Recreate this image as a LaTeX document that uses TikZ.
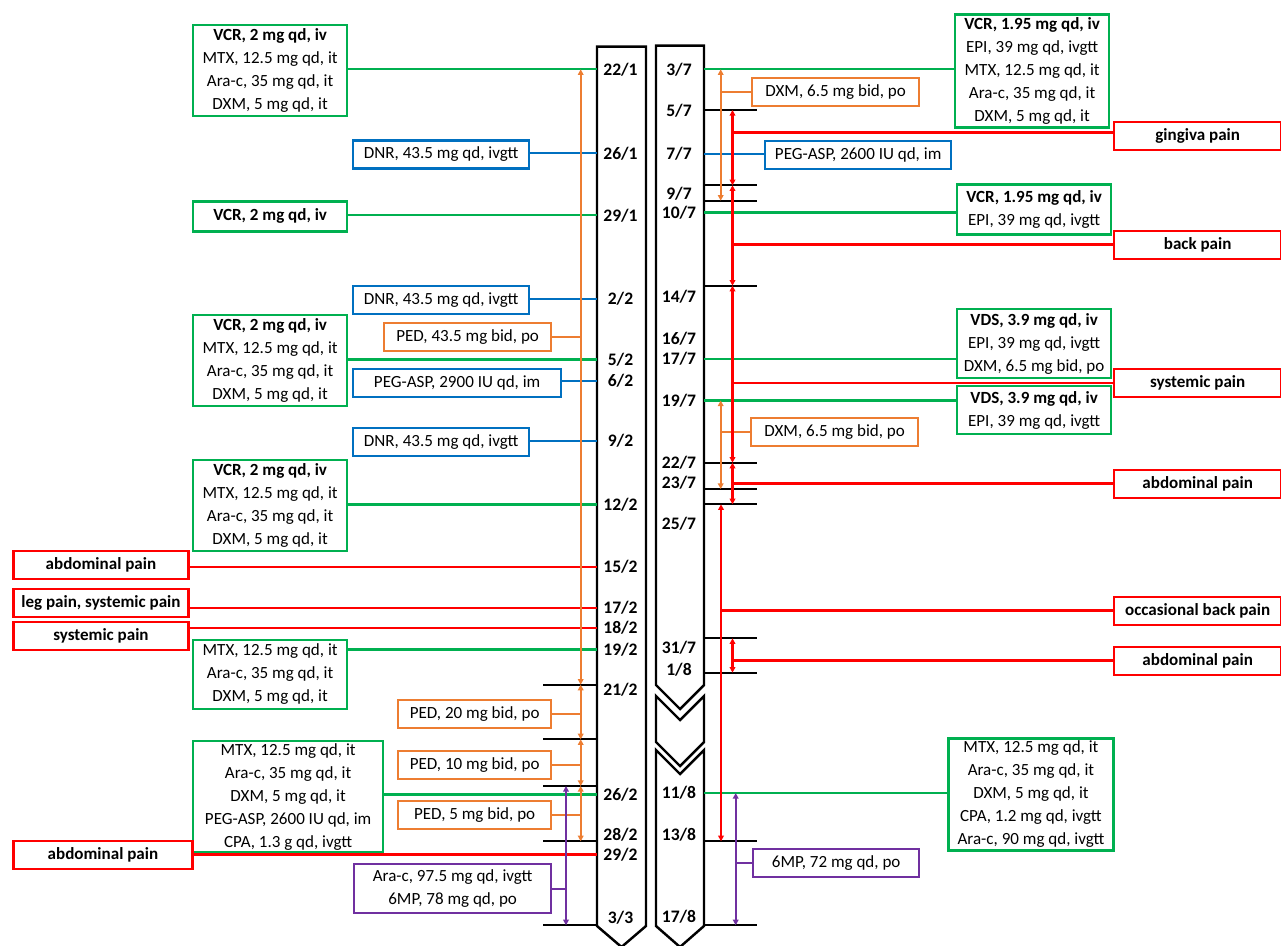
\documentclass[tikz,border=0pt]{standalone}
\usepackage{fontspec}
\setmainfont{Carlito}
\usepackage{tikz}
\usetikzlibrary{calc,positioning,arrows.meta}

\definecolor{dgreen}{RGB}{0,176,80}
\definecolor{dblue}{RGB}{0,112,192}
\definecolor{dorange}{RGB}{237,125,49}
\definecolor{dred}{RGB}{255,0,0}
\definecolor{dpurple}{RGB}{112,48,160}

\tikzset{
	drug/.style={draw, line width=1.3pt, fill=white, align=center, inner sep=0pt, anchor=north west, font=\fontsize{9.7}{13.1}\selectfont},
	greenbox/.style={drug, draw=dgreen},
	bluebox/.style={drug, draw=dblue},
	orangebox/.style={drug, draw=dorange},
	purplebox/.style={drug, draw=dpurple},
	painbox/.style={drug, draw=dred, font=\fontsize{9.7}{13.1}\selectfont\bfseries},
	wh/.style 2 args={minimum width=#1*0.02cm, minimum height=#2*0.02cm},
	datelbl/.style={font=\fontsize{10}{12}\selectfont\bfseries, inner sep=0pt},
	column/.style={line width=1.4pt, fill=white, line join=miter},
	tickmark/.style={line width=1.3pt},
	gline/.style={dgreen, line width=1.25pt},
	bline/.style={dblue, line width=1.25pt},
	oline/.style={dorange, line width=1.2pt},
	rline/.style={dred, line width=1.4pt},
	uline/.style={dpurple, line width=1.2pt},
	span/.style={{Triangle[length=3.2pt,width=3.2pt]}-{Triangle[length=3.2pt,width=3.2pt]}},
}

\begin{document}
\begin{tikzpicture}[x=0.02cm, y=-0.02cm]
	\useasboundingbox (0,0) rectangle (1281,946);

	% The two time columns
	\draw[column] (597,46.7) -- (646,46.7) -- (646,926) -- (621.5,947) -- (597,926) -- cycle;
	\draw[column] (656,45.7) -- (704,45.7) -- (704,685) -- (680,709) -- (656,685) -- cycle;
	\draw[column] (656,696) -- (680,720) -- (704,696) -- (704,742) -- (680,766) -- (656,742) -- cycle;
	\draw[column] (656,750) -- (680,774) -- (704,750) -- (704,926) -- (680,947) -- (656,926) -- cycle;
	\coordinate (lw) at (597,0);
	\coordinate (re) at (704,0);

	% Dates, left column
	\node[datelbl] (n221) at (620.5,69.3) {22/1};
	\node[datelbl] (n261) at (620.5,153.3) {26/1};
	\node[datelbl] (n291) at (620.5,215.3) {29/1};
	\node[datelbl] (n22) at (620.5,299) {2/2};
	\node[datelbl] (n52) at (620.5,359.5) {5/2};
	\node[datelbl] (n62) at (620.5,381) {6/2};
	\node[datelbl] (n92) at (620.5,441) {9/2};
	\node[datelbl] (n122) at (620.5,504.5) {12/2};
	\node[datelbl] (n152) at (620.5,567) {15/2};
	\node[datelbl] (n172) at (620.5,608) {17/2};
	\node[datelbl] (n182) at (620.5,628) {18/2};
	\node[datelbl] (n192) at (620.5,649.5) {19/2};
	\node[datelbl] (n212) at (620.5,690) {21/2};
	\node[datelbl] (n262) at (620.5,794.5) {26/2};
	\node[datelbl] (n282) at (620.5,834.3) {28/2};
	\node[datelbl] (n292) at (620.5,854.5) {29/2};
	\node[datelbl] (n33) at (620.5,917.3) {3/3};

	% Dates, right column
	\node[datelbl] (n37) at (679,69.3) {3/7};
	\node[datelbl] (n57) at (679,111) {5/7};
	\node[datelbl] (n77) at (679,154) {7/7};
	\node[datelbl] (n97) at (679,193.3) {9/7};
	\node[datelbl] (n107) at (679,212.5) {10/7};
	\node[datelbl] (n147) at (679,296.7) {14/7};
	\node[datelbl] (n167) at (679,338.3) {16/7};
	\node[datelbl] (n177) at (679,359) {17/7};
	\node[datelbl] (n197) at (679,400.5) {19/7};
	\node[datelbl] (n227) at (679,462.7) {22/7};
	\node[datelbl] (n237) at (679,482.3) {23/7};
	\node[datelbl] (n257) at (679,524) {25/7};
	\node[datelbl] (n317) at (679,647.7) {31/7};
	\node[datelbl] (n18) at (679,669.3) {1/8};
	\node[datelbl] (n118) at (679,793) {11/8};
	\node[datelbl] (n138) at (679,834.3) {13/8};
	\node[datelbl] (n178) at (679,916.7) {17/8};

	% Period marks
	\coordinate (k212) at (543,684.7);
	\coordinate (k242) at (543,739.3);
	\coordinate (k262) at (543,786);
	\coordinate (k282) at (543,841.3);
	\coordinate (k33) at (543,925.3);
	\draw[tickmark] (k212) -- (k212 -| lw);
	\draw[tickmark] (k242) -- (k242 -| lw);
	\draw[tickmark] (k262) -- (k262 -| lw);
	\draw[tickmark] (k282) -- (k282 -| lw);
	\draw[tickmark] (k33) -- (k33 -| lw);
	\coordinate (k57) at (756.7,110);
	\coordinate (k97a) at (756.7,185.3);
	\coordinate (k97b) at (756.7,200.7);
	\coordinate (k147) at (756.7,285.7);
	\coordinate (k227) at (756.7,462.7);
	\coordinate (k237) at (756.7,489);
	\coordinate (k257) at (756.7,504.3);
	\coordinate (k317) at (756.7,638.3);
	\coordinate (k18) at (756.7,672.7);
	\coordinate (k138) at (756.7,841.3);
	\coordinate (k178) at (756.7,925.3);
	\draw[tickmark] (k57 -| re) -- (k57);
	\draw[tickmark] (k97a -| re) -- (k97a);
	\draw[tickmark] (k97b -| re) -- (k97b);
	\draw[tickmark] (k147 -| re) -- (k147);
	\draw[tickmark] (k227 -| re) -- (k227);
	\draw[tickmark] (k237 -| re) -- (k237);
	\draw[tickmark] (k257 -| re) -- (k257);
	\draw[tickmark] (k317 -| re) -- (k317);
	\draw[tickmark] (k18 -| re) -- (k18);
	\draw[tickmark] (k138 -| re) -- (k138);
	\draw[tickmark] (k178 -| re) -- (k178);

	% Left side: treatments and symptoms
	\node[greenbox, wh={154}{91}] (c221) at (192,24) {\textbf{VCR, 2 mg qd, iv}\\MTX, 12.5 mg qd, it\\Ara-c, 35 mg qd, it\\DXM, 5 mg qd, it};
	\node[bluebox, wh={176}{28}] (c261) at (352,139.3) {DNR, 43.5 mg qd, ivgtt};
	\node[greenbox, wh={154}{30}] (c291) at (192,200.3) {\textbf{VCR, 2 mg qd, iv}};
	\node[bluebox, wh={176}{28}] (c22) at (352,285) {DNR, 43.5 mg qd, ivgtt};
	\node[greenbox, wh={154}{91}] (c52) at (192,313.5) {\textbf{VCR, 2 mg qd, iv}\\MTX, 12.5 mg qd, it\\Ara-c, 35 mg qd, it\\DXM, 5 mg qd, it};
	\node[orangebox, wh={167}{28}] (p1) at (383,321.7) {PED, 43.5 mg bid, po};
	\node[bluebox, wh={208}{28}] (c62) at (352,368) {PEG-ASP, 2900 IU qd, im};
	\node[bluebox, wh={176}{28}] (c92) at (352,427) {DNR, 43.5 mg qd, ivgtt};
	\node[greenbox, wh={154}{91}] (c122) at (192,458.5) {\textbf{VCR, 2 mg qd, iv}\\MTX, 12.5 mg qd, it\\Ara-c, 35 mg qd, it\\DXM, 5 mg qd, it};
	\node[painbox, wh={175}{28}] (s152) at (12.3,549.5) {abdominal pain};
	\node[painbox, wh={175}{28}] (s172) at (12.3,587.5) {leg pain, systemic pain};
	\node[painbox, wh={175}{28}] (s182) at (12.3,621) {systemic pain};
	\node[greenbox, wh={154}{69}] (c192) at (192,638.5) {MTX, 12.5 mg qd, it\\Ara-c, 35 mg qd, it\\DXM, 5 mg qd, it};
	\node[orangebox, wh={153}{28}] (p2) at (397,698.5) {PED, 20 mg bid, po};
	\node[orangebox, wh={153}{28}] (p3) at (397,750) {PED, 10 mg bid, po};
	\node[orangebox, wh={153}{28}] (p4) at (397,800) {PED, 5 mg bid, po};
	\node[greenbox, wh={190}{111}] (c262) at (192,740) {MTX, 12.5 mg qd, it\\Ara-c, 35 mg qd, it\\DXM, 5 mg qd, it\\PEG-ASP, 2600 IU qd, im\\CPA, 1.3 g qd, ivgtt};
	\node[painbox, wh={179}{28}] (s292) at (12.3,840) {abdominal pain};
	\node[purplebox, wh={197}{49}] (m1) at (353,863) {Ara-c, 97.5 mg qd, ivgtt\\6MP, 78 mg qd, po};

	% Right side: treatments and symptoms
	\node[greenbox, wh={154}{113}] (c37) at (954,13.3) {\textbf{VCR, 1.95 mg qd, iv}\\EPI, 39 mg qd, ivgtt\\MTX, 12.5 mg qd, it\\Ara-c, 35 mg qd, it\\DXM, 5 mg qd, it};
	\node[orangebox, wh={167}{28}] (p5) at (751,77) {DXM, 6.5 mg bid, po};
	\node[painbox, wh={167}{28}] (s57) at (1113,121) {gingiva pain};
	\node[bluebox, wh={186}{28}] (c77) at (764,140) {PEG-ASP, 2600 IU qd, im};
	\node[greenbox, wh={154}{50}] (c107) at (956,183.3) {\textbf{VCR, 1.95 mg qd, iv}\\EPI, 39 mg qd, ivgtt};
	\node[painbox, wh={167}{28}] (s97) at (1113,229.5) {back pain};
	\node[greenbox, wh={154}{69}] (c177) at (956,308) {\textbf{VDS, 3.9 mg qd, iv}\\EPI, 39 mg qd, ivgtt\\DXM, 6.5 mg bid, po};
	\node[painbox, wh={167}{28}] (s147) at (1113,368) {systemic pain};
	\node[greenbox, wh={154}{48}] (c197) at (956,385) {\textbf{VDS, 3.9 mg qd, iv}\\EPI, 39 mg qd, ivgtt};
	\node[orangebox, wh={167}{28}] (p6) at (750,416.7) {DXM, 6.5 mg bid, po};
	\node[painbox, wh={167}{28}] (s227) at (1113,468.5) {abdominal pain};
	\node[painbox, wh={167}{28}] (s257) at (1113,595.5) {occasional back pain};
	\node[painbox, wh={167}{28}] (s318) at (1113,645.5) {abdominal pain};
	\node[greenbox, wh={165}{112}] (c118) at (947.3,737.3) {MTX, 12.5 mg qd, it\\Ara-c, 35 mg qd, it\\DXM, 5 mg qd, it\\CPA, 1.2 mg qd, ivgtt\\Ara-c, 90 mg qd, ivgtt};
	\node[purplebox, wh={166}{28}] (m2) at (752,848) {6MP, 72 mg qd, po};

	% Links from boxes to the left column
	\draw[gline] (c221.east |- n221) -- (lw |- n221);
	\draw[bline] (c261.east |- n261) -- (lw |- n261);
	\draw[gline] (c291.east |- n291) -- (lw |- n291);
	\draw[bline] (c22.east |- n22) -- (lw |- n22);
	\draw[gline] (c52.east |- n52) -- (lw |- n52);
	\draw[bline] (c62.east |- n62) -- (lw |- n62);
	\draw[bline] (c92.east |- n92) -- (lw |- n92);
	\draw[gline] (c122.east |- n122) -- (lw |- n122);
	\draw[rline] (s152.east |- n152) -- (lw |- n152);
	\draw[rline] (s172.east |- n172) -- (lw |- n172);
	\draw[rline] (s182.east |- n182) -- (lw |- n182);
	\draw[gline] (c192.east |- n192) -- (lw |- n192);
	\draw[gline] (c262.east |- n262) -- (lw |- n262);
	\draw[rline] (s292.east |- n292) -- (lw |- n292);

	% Links from the right column to boxes
	\draw[gline] (re |- n37) -- (c37.west |- n37);
	\draw[bline] (re |- n77) -- (c77.west |- n77);
	\draw[gline] (re |- n107) -- (c107.west |- n107);
	\draw[gline] (re |- n177) -- (c177.west |- n177);
	\draw[gline] (re |- n197) -- (c197.west |- n197);
	\draw[gline] (re |- n118) -- (c118.west |- n118);

	% Spans of treatment, left
	\coordinate (ol) at (580.7,0);
	\coordinate (ul) at (566,0);
	\draw[oline, span] (ol |- n221) -- (ol |- k212);
	\draw[oline] (p1.east) -- (p1.east -| ol);
	\draw[oline, span] (ol |- k212) -- (ol |- k242);
	\draw[oline] (p2.east) -- (p2.east -| ol);
	\draw[oline, span] (ol |- k242) -- (ol |- k262);
	\draw[oline] (p3.east) -- (p3.east -| ol);
	\draw[oline, span] (ol |- k262) -- (ol |- k282);
	\draw[oline] (p4.east) -- (p4.east -| ol);
	\draw[uline, span] (ul |- k262) -- (ul |- k33);
	\draw[uline] (m1.east) -- (m1.east -| ul);

	% Spans of treatment and symptoms, right
	\coordinate (or) at (720.7,0);
	\coordinate (rr) at (732.5,0);
	\coordinate (rl) at (721,0);
	\coordinate (ur) at (735.7,0);
	\draw[oline, span] (or |- n37) -- (or |- k97b);
	\draw[oline] (p5.west -| or) -- (p5.west);
	\draw[oline, span] (or |- n197) -- (or |- k237);
	\draw[oline] (p6.west -| or) -- (p6.west);
	\draw[rline, span] (rr |- k57) -- (rr |- k97a);
	\draw[rline] (rr |- 0,132.3) -- (s57.west |- 0,132.3);
	\draw[rline, span] (rr |- k97a) -- (rr |- k147);
	\draw[rline] (rr |- s97.west) -- (s97.west);
	\draw[rline, span] (rr |- k147) -- (rr |- k227);
	\draw[rline] (rr |- s147.west) -- (s147.west);
	\draw[rline, span] (rr |- k227) -- (rr |- k257);
	\draw[rline] (rr |- s227.west) -- (s227.west);
	\draw[rline, span] (rl |- k257) -- (rl |- k138);
	\draw[rline] (rl |- s257.west) -- (s257.west);
	\draw[rline, span] (rr |- k317) -- (rr |- k18);
	\draw[rline] (rr |- s318.west) -- (s318.west);
	\draw[uline, span] (ur |- n118) -- (ur |- k178);
	\draw[uline] (m2.west -| ur) -- (m2.west);
\end{tikzpicture}
\end{document}
